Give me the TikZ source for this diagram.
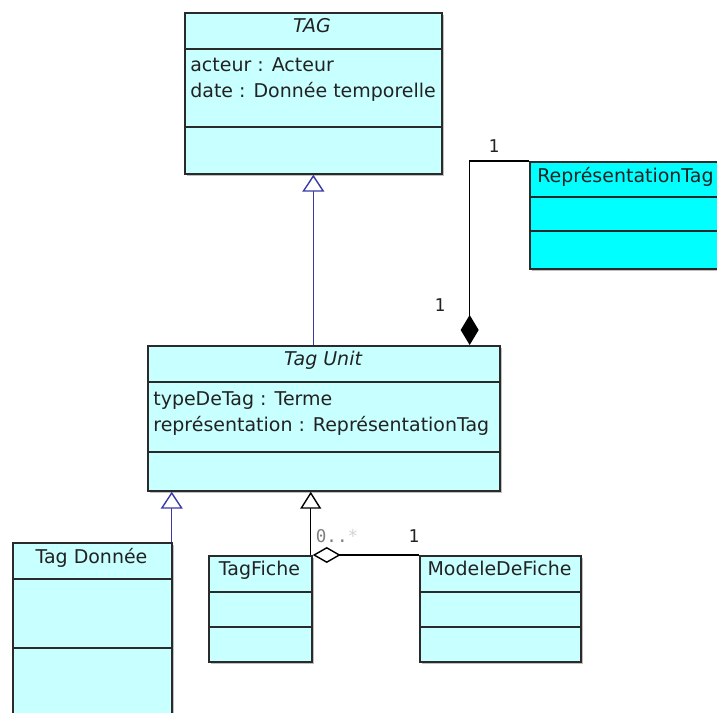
\documentclass[tikz,border=0pt]{standalone}
\usepackage{fontspec}
\setmainfont{DejaVu Sans}
\setmonofont{DejaVu Sans Mono}
\usepackage{tikz}
\usetikzlibrary{arrows.meta,calc,shadows}
\definecolor{classfill}{HTML}{C8FFFF}
\definecolor{repfill}{HTML}{00FFFF}
\definecolor{genblue}{HTML}{3A3AA8}
\definecolor{boxline}{HTML}{2A2A2A}
\definecolor{textgray}{HTML}{222222}

\begin{document}
\begin{tikzpicture}[x=0.02cm, y=-0.02cm,
  classbox/.style={draw=boxline, line width=1pt, fill=classfill, anchor=north west,
    inner sep=0pt, drop shadow={shadow xshift=0.05cm, shadow yshift=-0.05cm, fill=black!50}},
  sepline/.style={draw=boxline, line width=1pt},
  classtitle/.style={anchor=base, inner sep=0pt, text=textgray, font=\fontsize{10.8}{12}\selectfont},
  classattr/.style={anchor=base west, inner sep=0pt, text=textgray, font=\fontsize{10.8}{12}\selectfont},
  mult/.style={inner sep=0pt, text=textgray, font=\ttfamily\fontsize{10}{12}\selectfont},
  genline/.style={draw=genblue, line width=0.8pt, -{Triangle[length=0.34cm, width=0.44cm, fill=white]}},
  genblack/.style={draw=black, line width=0.8pt, -{Triangle[length=0.34cm, width=0.42cm, fill=white]}},
  aggline/.style={draw=black, line width=0.8pt, {Diamond[length=0.56cm, width=0.32cm, fill=white]}-},
  compline/.style={draw=black, line width=0.8pt, {Diamond[length=0.6cm, width=0.36cm]}-}]
\useasboundingbox (0,0) rectangle (717,713);
\clip (0,0) rectangle (717,713);

% TAG
\node[classbox, minimum width=5.14cm, minimum height=3.22cm] (tag) at (184,12) {};
\draw[sepline] (184,49) -- (441,49);
\draw[sepline] (184,127) -- (441,127);
\node[classtitle] (tagname) at (312,33) {\itshape TAG};
\node[classattr] (tagacteur) at (190,72) {acteur : Acteur};
\node[classattr] (tagdate) at (190,98) {date : Donnée temporelle};

% ReprésentationTag
\node[classbox, fill=repfill, minimum width=4.22cm, minimum height=2.14cm] (rep) at (529,161) {};
\draw[sepline] (529,197) -- (740,197);
\draw[sepline] (529,231) -- (740,231);
\node[classattr] (repname) at (537,182) {ReprésentationTag};

% Tag Unit
\node[classbox, minimum width=7.04cm, minimum height=2.9cm] (tagunit) at (147,345) {};
\draw[sepline] (147,382) -- (499,382);
\draw[sepline] (147,452) -- (499,452);
\node[classtitle] (tagunitname) at (323,365) {\itshape Tag Unit};
\node[classattr] (tagunittype) at (153,405) {typeDeTag : Terme};
\node[classattr] (tagunitrep) at (153,431) {représentation : ReprésentationTag};

% Tag Donnée
\node[classbox, minimum width=3.18cm, minimum height=3.96cm] (tagdonnee) at (12,542) {};
\draw[sepline] (12,579) -- (171,579);
\draw[sepline] (12,648) -- (171,648);
\node[classtitle] (tagdonneename) at (91.5,563) {Tag Donnée};

% TagFiche
\node[classbox, minimum width=2.06cm, minimum height=2.12cm] (tagfiche) at (208,555) {};
\draw[sepline] (208,592) -- (311,592);
\draw[sepline] (208,627) -- (311,627);
\node[classtitle] (tagfichename) at (259.5,575) {TagFiche};

% ModeleDeFiche
\node[classbox, minimum width=3.22cm, minimum height=2.12cm] (modele) at (419,555) {};
\draw[sepline] (419,592) -- (580,592);
\draw[sepline] (419,627) -- (580,627);
\node[classtitle] (modelename) at (499.5,575) {ModeleDeFiche};

% heritage
\draw[genline] (tag.south |- tagunit.north) -- (tag.south);
\draw[genline] ($(tagdonnee.north east)+(-1,0)$) -- ($(tagdonnee.north east |- tagunit.south)+(-1,0)$);
\draw[genblack] ($(tagfiche.north east)+(-2,0)$) -- ($(tagfiche.north east |- tagunit.south)+(-2,0)$);

% associations
\draw[aggline] (tagfiche.north east) -- (modele.north west);
\draw[compline] ($(tagunit.north east)+(-31,0)$) |- (rep.north west);

\node[mult] (multrep) at (494,146) {1};
\node[mult] (multunit) at (440,305) {1};
\node[mult] (multfiche) at (337,536) {\textcolor{gray}{0..}\textcolor{gray!35}{*}};
\node[mult] (multmodele) at (414,536) {1};
\end{tikzpicture}
\end{document}
